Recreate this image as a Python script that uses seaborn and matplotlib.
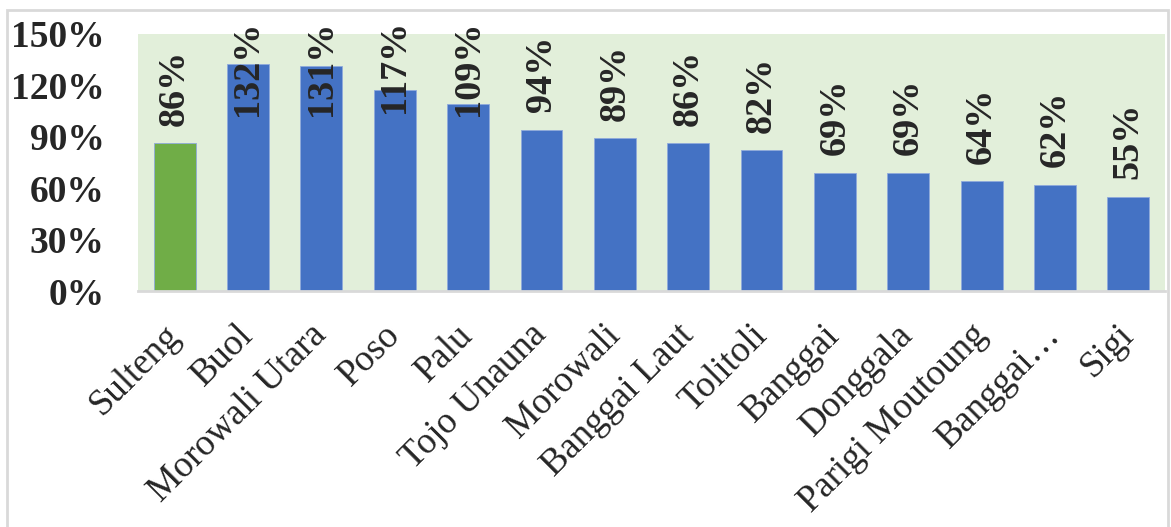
import matplotlib
matplotlib.use("Agg")
import matplotlib.pyplot as plt
import seaborn as sns
from matplotlib.patches import Rectangle

regions = ["Sulteng", "Buol", "Morowali Utara", "Poso", "Palu", "Tojo Unauna",
           "Morowali", "Banggai Laut", "Tolitoli", "Banggai", "Donggala",
           "Parigi Moutoung", "Banggai…", "Sigi"]
values = [86, 132, 131, 117, 109, 94, 89, 86, 82, 69, 69, 64, 62, 55]
y_ticks = [0, 30, 60, 90, 120, 150]

province_color = "#70AD47"
district_color = "#4472C4"
colors = [province_color] + [district_color] * (len(regions) - 1)

sns.set_theme(style="white")
plt.rcParams["font.family"] = ["Liberation Serif", "DejaVu Serif"]

fig = plt.figure(figsize=(11.71, 5.27), dpi=100)
ax = fig.add_axes([0.1178, 0.4478, 0.9949 - 0.1178, 0.9364 - 0.4478])
ax.set_facecolor("#E2EFDA")

sns.barplot(x=regions, y=values, hue=regions, palette=colors, width=0.57,
            legend=False, ax=ax, saturation=1, edgecolor="#8FAADC", linewidth=0.6)

ax.set_ylim(0, 150)
ax.set_xlim(-0.5, len(regions) - 0.5)
ax.set_yticks(y_ticks)
ax.set_yticklabels([f"{t}%" for t in y_ticks], fontsize=27, fontweight="bold")
ax.tick_params(axis="y", length=0, pad=24)
ax.tick_params(axis="x", length=0, pad=28)
ax.set_xticks(range(len(regions)))
ax.set_xticklabels(regions, fontsize=26.5, rotation=45, ha="right",
                   rotation_mode="anchor", va="center")
ax.set_xlabel("")
ax.set_ylabel("")
for side in ["top", "right", "left"]:
    ax.spines[side].set_visible(False)
ax.spines["bottom"].set_color("#D9D9D9")
ax.spines["bottom"].set_linewidth(2)

# value labels above the bars, kept inside the chart frame
labels = []
for i, v in enumerate(values):
    t = ax.text(i, v + 10, f"{v}%", rotation=90, ha="center", va="bottom",
                fontsize=27.5, fontweight="bold", clip_on=False)
    labels.append(t)

fig.canvas.draw()
renderer = fig.canvas.get_renderer()
top_limit = fig.bbox.height - 20
inv = ax.transData.inverted()
for t in labels:
    bb = t.get_window_extent(renderer)
    if bb.y1 > top_limit:
        shift = bb.y1 - top_limit
        x, y = t.get_position()
        disp = ax.transData.transform((x, y))
        new = inv.transform((disp[0], disp[1] - shift))
        t.set_position((x, new[1]))

# chart frame
fig.patches.append(Rectangle((7 / 1171, -0.05), (1168 - 7) / 1171, 1 - 10 / 527 + 0.05,
                             transform=fig.transFigure, fill=False,
                             edgecolor="#D9D9D9", linewidth=2, zorder=-1))

fig.savefig("out.png", dpi=100)
